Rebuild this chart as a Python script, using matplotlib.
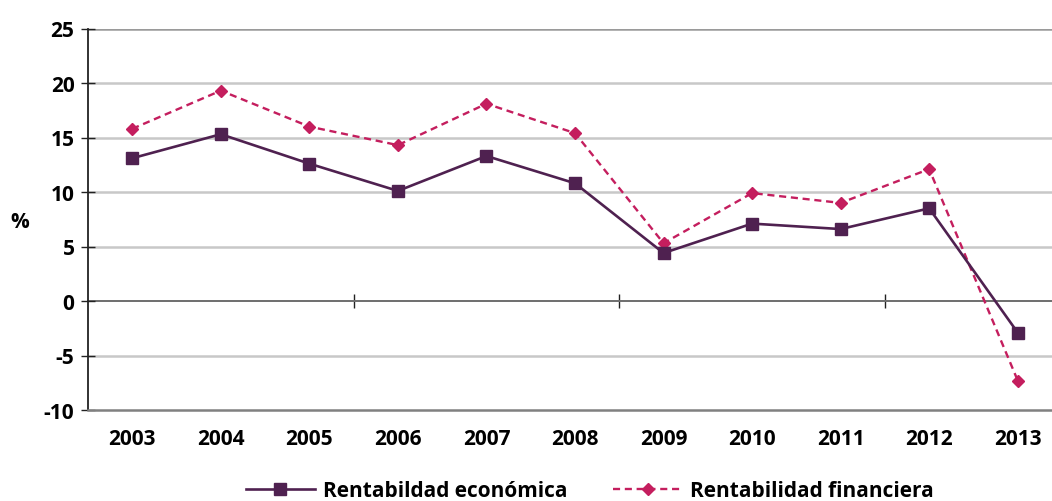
import matplotlib.pyplot as plt
import numpy as np

plt.rcParams["font.family"] = ["Open Sans", "DejaVu Sans"]
plt.rcParams["font.weight"] = "bold"
plt.rcParams["axes.unicode_minus"] = False

years = ["2003", "2004", "2005", "2006", "2007", "2008", "2009", "2010", "2011", "2012", "2013"]
economica = [13.1, 15.3, 12.6, 10.1, 13.3, 10.8, 4.4, 7.1, 6.6, 8.5, -2.9]
financiera = [15.8, 19.3, 16.0, 14.3, 18.1, 15.4, 5.3, 9.9, 9.0, 12.1, -7.3]
y_ticks = [-10, -5, 0, 5, 10, 15, 20, 25]

c_eco = "#4f2150"
c_fin = "#c41e5e"

fig = plt.figure(figsize=(10.52, 5.02), dpi=100)
ax = fig.add_axes([88 / 1052, 1 - 411 / 502, 974 / 1052, 381.5 / 502])

x = np.arange(len(years))
ax.set_xlim(-0.5, len(years) - 0.5)
ax.set_ylim(-10, 25)

# gridlines
for v in y_ticks[1:]:
    if v == 0:
        continue
    ax.axhline(v, color="#9a9a9a" if v == 25 else "#c8c8c8", lw=1.8, zorder=1)

ax.plot(x, economica, color=c_eco, lw=1.9, marker="s", markersize=8.5,
        label="Rentabildad económica", zorder=4)
ax.plot(x, financiera, color=c_fin, lw=1.7, ls=(0, (3.0, 2.0)), marker="D", markersize=6.5,
        label="Rentabilidad financiera", zorder=3)

for s in ["top", "right"]:
    ax.spines[s].set_visible(False)
ax.spines["left"].set_color("#222222")
ax.spines["left"].set_linewidth(1.3)
ax.spines["bottom"].set_color("#808080")
ax.spines["bottom"].set_linewidth(1.8)

ax.set_yticks(y_ticks)
ax.tick_params(axis="y", direction="inout", length=9.5, width=1.0, color="#222222",
               labelsize=15, pad=5)
ax.set_xticks(x)
ax.set_xticklabels(years)
ax.tick_params(axis="x", length=0, labelsize=15, pad=13)

# zero axis line with tick marks between every 3 categories
zero = ax.secondary_xaxis(10 / 35)
zero.spines["bottom"].set_color("#6e6e6e")
zero.spines["bottom"].set_linewidth(1.4)
zero.set_xticks([2.5, 5.5, 8.5])
zero.set_xticklabels([])
zero.tick_params(direction="inout", length=9.5, width=1.0, color="#222222")

fig.text(20 / 1052, 1 - 222 / 502, "%", fontsize=15, fontweight="bold", ha="center", va="center")

fig.legend(loc="center", bbox_to_anchor=(590 / 1052, 1 - 492 / 502), ncol=2, frameon=False,
           fontsize=15, handlelength=3.3, columnspacing=2.2, handletextpad=0.4)

fig.savefig("out.png", dpi=100)
